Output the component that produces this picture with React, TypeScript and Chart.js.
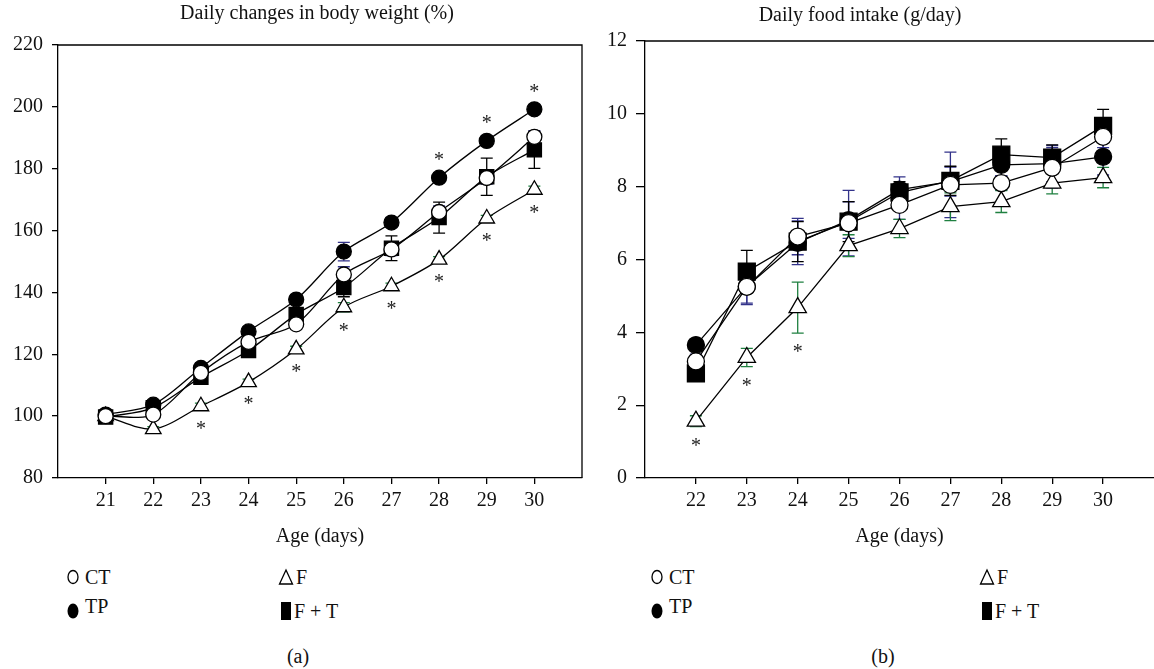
import React, { useEffect, useRef } from "react";
import { Chart, registerables } from "chart.js";

Chart.register(...registerables);

// ---------- Data: (a) Daily changes in body weight (%) ----------
const bwDays = [21, 22, 23, 24, 25, 26, 27, 28, 29, 30];
const bwCT = [100, 100.5, 114, 124, 129.7, 145.8, 153.9, 166, 177, 190.3];
const bwTP = [100.5, 103.7, 115.6, 127.4, 137.7, 153.2, 162.6, 177.1, 189, 199.2];
const bwF = [100, 95.8, 103.2, 111, 121.6, 135.2, 142, 150.6, 163.9, 173.2];
const bwFT = [99.7, 102.7, 112.6, 121.2, 132.9, 141.6, 154.3, 164.2, 177.4, 186.1];
const bwCTErr = [0.5, 1, 1.5, 1.5, 1.5, 2.5, 2, 2, 2, 2];
const bwTPErr = [0.5, 1, 1.5, 1.5, 1.5, 3, 1.5, 1.5, 1.5, 1.5];
const bwFErr = [0.5, 0.8, 1, 1, 1, 1.5, 1, 1, 1, 1.2];
const bwFTErr = [0.5, 1, 1.5, 1.5, 2, 3, 4, 5, 6, 6];
const bwYTicks = [80, 100, 120, 140, 160, 180, 200, 220];
const bwStarAboveTP = [28, 29, 30];
const bwStarBelowF = [23, 24, 25, 26, 27, 28, 29, 30];

// ---------- Data: (b) Daily food intake (g/day) ----------
const fiDays = [22, 23, 24, 25, 26, 27, 28, 29, 30];
const fiCT = [3.2, 5.25, 6.63, 7.0, 7.5, 8.05, 8.1, 8.52, 9.37];
const fiTP = [3.65, 5.26, 6.46, 7.08, 7.92, 8.14, 8.6, 8.63, 8.82];
const fiF = [1.56, 3.31, 4.68, 6.38, 6.85, 7.45, 7.59, 8.1, 8.25];
const fiFT = [2.87, 5.67, 6.49, 7.04, 7.84, 8.16, 8.88, 8.8, 9.67];
const fiCTErr = [0.2, 0.45, 0.5, 0.9, 0.4, 0.9, 0.2, 0.55, 0.3];
const fiTPErr = [0.15, 0.5, 0.6, 0.5, 0.35, 0.4, 0.3, 0.5, 0.5];
const fiFErr = [0.15, 0.25, 0.7, 0.3, 0.25, 0.38, 0.3, 0.3, 0.28];
const fiFTErr = [0.2, 0.58, 0.55, 0.55, 0.3, 0.4, 0.43, 0.35, 0.45];
const fiYTicks = [0, 2, 4, 6, 8, 10, 12];
const fiStarBelowF = [22, 23, 24];

const SERIF = "'Liberation Serif', 'Times New Roman', serif";
const NAVY = "#33338a";
const GREEN = "#1f8040";
const FS = 20;

type Series = {
  label: string;
  values: number[];
  errs: number[];
  style: "pointCT" | "pointTP" | "pointF" | "pointFT";
  errColor: string;
};

function pts(xs: number[], ys: number[]) {
  return xs.map((x, i) => ({ x, y: ys[i] }));
}

const markerStyle: Record<string, any> = {
  pointCT: { pointStyle: "circle", backgroundColor: "#ffffff" },
  pointTP: { pointStyle: "circle", backgroundColor: "#000000" },
  pointF: { pointStyle: "triangle", backgroundColor: "#ffffff" },
  pointFT: { pointStyle: "rect", backgroundColor: "#000000" },
};

function makeChart(
  canvas: HTMLCanvasElement,
  opts: {
    days: number[];
    series: Series[];
    xMin: number;
    xMax: number;
    yMin: number;
    yMax: number;
    yTicks: number[];
    yWidth: number;
    yTickLen: number;
    padTop: number;
    padRight: number;
    xHeight: number;
    tension: number;
    radii: Record<string, number>;
    stars: { day: number; seriesIdx: number; pos: "above" | "below" }[];
    fullBox: boolean;
  }
) {
  const errPlugin = {
    id: "errbars",
    beforeDatasetsDraw(chart: any) {
      const ctx = chart.ctx;
      const xs = chart.scales.x;
      const ys = chart.scales.y;
      ctx.save();
      opts.series.forEach((s) => {
        ctx.strokeStyle = s.errColor;
        ctx.lineWidth = 1.3;
        s.values.forEach((v, i) => {
          const px = xs.getPixelForValue(opts.days[i]);
          const top = ys.getPixelForValue(v + s.errs[i]);
          const bot = ys.getPixelForValue(v - s.errs[i]);
          ctx.beginPath();
          ctx.moveTo(px, top);
          ctx.lineTo(px, bot);
          ctx.moveTo(px - 6, top);
          ctx.lineTo(px + 6, top);
          ctx.moveTo(px - 6, bot);
          ctx.lineTo(px + 6, bot);
          ctx.stroke();
        });
      });
      ctx.restore();
    },
    afterDatasetsDraw(chart: any) {
      const ctx = chart.ctx;
      const xs = chart.scales.x;
      const ys = chart.scales.y;
      const a = chart.chartArea;
      ctx.save();
      ctx.strokeStyle = "#000";
      ctx.lineWidth = 1.3;
      ctx.beginPath();
      ctx.moveTo(a.left, a.top);
      ctx.lineTo(a.right, a.top);
      if (opts.fullBox) ctx.lineTo(a.right, a.bottom);
      ctx.stroke();
      ctx.fillStyle = "#222";
      ctx.font = `${FS}px ${SERIF}`;
      ctx.textAlign = "center";
      ctx.textBaseline = "middle";
      opts.stars.forEach((st) => {
        const s = opts.series[st.seriesIdx];
        const i = opts.days.indexOf(st.day);
        const px = xs.getPixelForValue(st.day);
        if (st.pos === "above") {
          const py = ys.getPixelForValue(s.values[i] + s.errs[i]) - 12;
          ctx.fillText("*", px, py);
        } else {
          const py = ys.getPixelForValue(s.values[i] - s.errs[i]) + 20;
          ctx.fillText("*", px, py);
        }
      });
      ctx.restore();
    },
  };

  const shown = (v: number) => opts.days.indexOf(v) >= 0;

  return new Chart(canvas, {
    type: "line",
    data: {
      datasets: opts.series.map((s) => ({
        label: s.label,
        data: pts(opts.days, s.values),
        borderColor: "#000",
        borderWidth: 1.3,
        tension: opts.tension,
        fill: false,
        clip: false,
        pointRadius: opts.radii[s.style],
        pointHoverRadius: opts.radii[s.style],
        pointBorderWidth: 1.3,
        pointBorderColor: "#000",
        pointBackgroundColor: markerStyle[s.style].backgroundColor,
        pointStyle: markerStyle[s.style].pointStyle,
      })),
    },
    options: {
      animation: false,
      responsive: false,
      maintainAspectRatio: false,
      events: [],
      layout: { autoPadding: false, padding: { top: opts.padTop, right: opts.padRight, left: 0, bottom: 0 } },
      plugins: { legend: { display: false }, tooltip: { enabled: false }, title: { display: false } },
      scales: {
        x: {
          type: "linear",
          min: opts.xMin,
          max: opts.xMax,
          afterFit: (scale: any) => {
            scale.height = opts.xHeight;
            scale.paddingLeft = 0;
            scale.paddingRight = 0;
          },
          grid: {
            drawOnChartArea: false,
            drawTicks: true,
            tickLength: 6,
            color: "#000",
            tickColor: (c: any) => (c.tick && shown(c.tick.value) ? "#000" : "rgba(0,0,0,0)"),
            lineWidth: 1.3,
          },
          border: { display: true, color: "#000", width: 1.3 },
          ticks: {
            stepSize: 1,
            color: "#111",
            font: { family: SERIF, size: FS },
            padding: 5,
            maxRotation: 0,
            autoSkip: false,
            callback: (v: any) => (shown(Number(v)) ? String(v) : ""),
          },
          title: {
            display: true,
            text: "Age (days)",
            color: "#111",
            font: { family: SERIF, size: FS },
            padding: { top: 0, bottom: 11 },
          },
        },
        y: {
          type: "linear",
          min: opts.yMin,
          max: opts.yMax,
          afterBuildTicks: (scale: any) => {
            scale.ticks = opts.yTicks.map((v) => ({ value: v }));
          },
          afterFit: (scale: any) => {
            scale.width = opts.yWidth;
            scale.paddingTop = 0;
            scale.paddingBottom = 0;
          },
          grid: { drawOnChartArea: false, drawTicks: true, tickLength: opts.yTickLen, color: "#000", lineWidth: 1.3 },
          border: { display: true, color: "#000", width: 1.3 },
          ticks: { color: "#111", font: { family: SERIF, size: FS }, padding: 9, autoSkip: false },
        },
      },
    },
    plugins: [errPlugin],
  } as any);
}

function Marker({ kind }: { kind: string }) {
  if (kind === "CT")
    return (
      <svg width="14" height="18" style={{ verticalAlign: "middle" }}>
        <ellipse cx="7" cy="9" rx="5" ry="6.5" fill="#fff" stroke="#000" strokeWidth="1.3" />
      </svg>
    );
  if (kind === "TP")
    return (
      <svg width="14" height="20" style={{ verticalAlign: "middle" }}>
        <ellipse cx="7" cy="10" rx="5.5" ry="7.5" fill="#000" />
      </svg>
    );
  if (kind === "F")
    return (
      <svg width="16" height="18" style={{ verticalAlign: "middle" }}>
        <polygon points="8,2 14.5,16 1.5,16" fill="#fff" stroke="#000" strokeWidth="1.3" />
      </svg>
    );
  return (
    <svg width="12" height="20" style={{ verticalAlign: "middle" }}>
      <rect x="1" y="1" width="10" height="18" fill="#000" />
    </svg>
  );
}

function LegendItem({ kind, text, x, y, raise }: { kind: string; text: string; x: number; y: number; raise?: boolean }) {
  return (
    <div
      style={{
        position: "absolute",
        left: x,
        top: y,
        fontFamily: SERIF,
        fontSize: FS,
        color: "#111",
        whiteSpace: "nowrap",
        lineHeight: "22px",
        display: "flex",
        alignItems: "center",
      }}
    >
      <Marker kind={kind} />
      <span style={{ marginLeft: kind === "F" || kind === "FT" ? 2 : 5, position: "relative", top: raise ? -5 : 0 }}>{text}</span>
    </div>
  );
}

function Label({ text, cx, cy, size }: { text: string; cx: number; cy: number; size: number }) {
  return (
    <div
      style={{
        position: "absolute",
        left: cx - 250,
        top: cy - 12,
        width: 500,
        height: 24,
        lineHeight: "24px",
        textAlign: "center",
        fontFamily: SERIF,
        fontSize: size,
        color: "#111",
        whiteSpace: "nowrap",
      }}
    >
      {text}
    </div>
  );
}

export default function App() {
  const leftRef = useRef<HTMLCanvasElement | null>(null);
  const rightRef = useRef<HTMLCanvasElement | null>(null);

  useEffect(() => {
    const left = makeChart(leftRef.current!, {
      days: bwDays,
      series: [
        { label: "CT", values: bwCT, errs: bwCTErr, style: "pointCT", errColor: NAVY },
        { label: "TP", values: bwTP, errs: bwTPErr, style: "pointTP", errColor: NAVY },
        { label: "F", values: bwF, errs: bwFErr, style: "pointF", errColor: GREEN },
        { label: "F + T", values: bwFT, errs: bwFTErr, style: "pointFT", errColor: "#000" },
      ],
      xMin: 20,
      xMax: 31,
      yMin: 80,
      yMax: 220,
      yTicks: bwYTicks,
      yWidth: 58,
      yTickLen: 6,
      padTop: 45,
      padRight: 8,
      xHeight: 82,
      tension: 0.3,
      radii: { pointCT: 7.5, pointTP: 7.5, pointF: 9, pointFT: 10 },
      stars: [
        ...bwStarAboveTP.map((d) => ({ day: d, seriesIdx: 1, pos: "above" as const })),
        ...bwStarBelowF.map((d) => ({ day: d, seriesIdx: 2, pos: "below" as const })),
      ],
      fullBox: true,
    });
    const right = makeChart(rightRef.current!, {
      days: fiDays,
      series: [
        { label: "CT", values: fiCT, errs: fiCTErr, style: "pointCT", errColor: NAVY },
        { label: "TP", values: fiTP, errs: fiTPErr, style: "pointTP", errColor: NAVY },
        { label: "F", values: fiF, errs: fiFErr, style: "pointF", errColor: GREEN },
        { label: "F + T", values: fiFT, errs: fiFTErr, style: "pointFT", errColor: "#000" },
      ],
      xMin: 21,
      xMax: 31,
      yMin: 0,
      yMax: 12,
      yTicks: fiYTicks,
      yWidth: 85,
      yTickLen: 9,
      padTop: 41,
      padRight: 0,
      xHeight: 82,
      tension: 0,
      radii: { pointCT: 8.5, pointTP: 8.5, pointF: 10, pointFT: 12 },
      stars: fiStarBelowF.map((d) => ({ day: d, seriesIdx: 2, pos: "below" as const })),
      fullBox: false,
    });
    return () => {
      left.destroy();
      right.destroy();
    };
  }, []);

  return (
    <div style={{ position: "fixed", left: 0, top: 0, width: 1154, height: 669, background: "#fff", overflow: "hidden" }}>
      <canvas ref={leftRef} width={590} height={560} style={{ position: "absolute", left: 0, top: 0, width: 590, height: 560 }} />
      <canvas ref={rightRef} width={594} height={560} style={{ position: "absolute", left: 560, top: 0, width: 594, height: 560 }} />
      <Label text="Daily changes in body weight (%)" cx={317} cy={12} size={FS} />
      <Label text="Daily food intake (g/day)" cx={860} cy={14} size={FS} />
      <LegendItem kind="CT" text="CT" x={66} y={566} />
      <LegendItem kind="TP" text="TP" x={66} y={600} raise />
      <LegendItem kind="F" text="F" x={278} y={566} />
      <LegendItem kind="FT" text="F + T" x={280} y={600} />
      <LegendItem kind="CT" text="CT" x={650} y={566} />
      <LegendItem kind="TP" text="TP" x={650} y={600} raise />
      <LegendItem kind="F" text="F" x={979} y={566} />
      <LegendItem kind="FT" text="F + T" x={981} y={600} />
      <Label text="(a)" cx={298} cy={656} size={FS} />
      <Label text="(b)" cx={883} cy={656} size={FS} />
    </div>
  );
}
